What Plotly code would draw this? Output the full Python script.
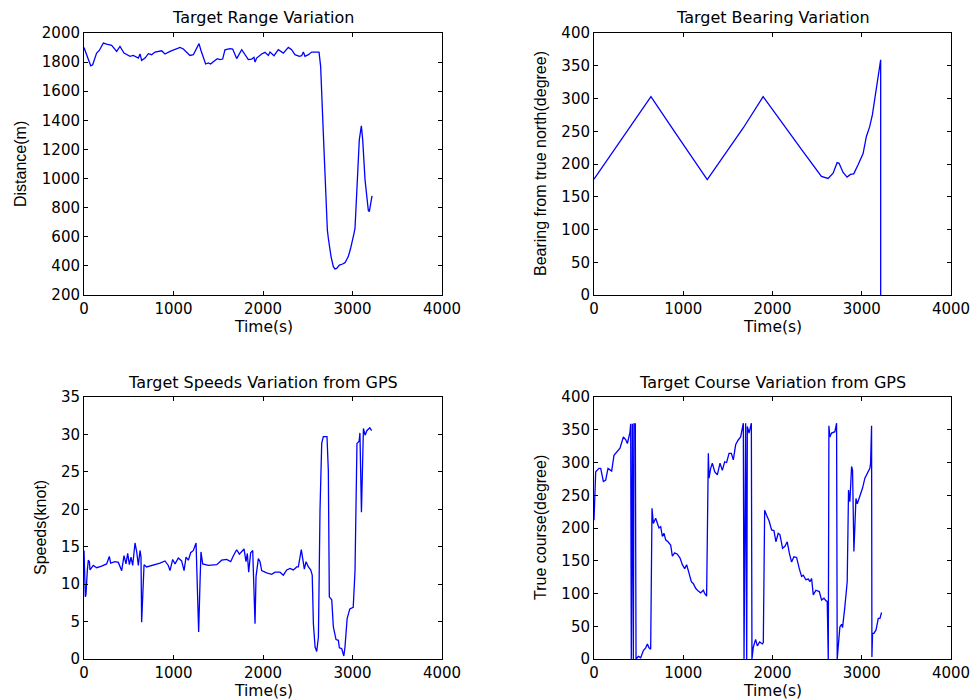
import plotly.graph_objects as go

# ---- data -------------------------------------------------------------
range_t = [0, 40, 75, 97, 141, 171, 216, 253, 309, 365,
           402, 447, 514, 551, 607, 626, 644, 682, 719, 756,
           793, 868, 905, 961, 1017, 1073, 1110, 1184, 1222, 1266,
           1285, 1307, 1359, 1389, 1415, 1445, 1490, 1519, 1549, 1575,
           1631, 1661, 1706, 1762, 1799, 1836, 1873, 1899, 1911, 1929,
           1985, 2022, 2060, 2078, 2123, 2171, 2227, 2283, 2320, 2357,
           2406, 2432, 2451, 2469, 2507, 2544, 2626, 2644, 2674, 2704,
           2719, 2730, 2760, 2786, 2804, 2823, 2853, 2890, 2916, 2953,
           2979, 3017, 3028, 3047, 3076, 3099, 3114, 3140, 3158, 3177,
           3188, 3203, 3218]
range_m = [1900, 1828, 1775, 1782, 1862, 1880, 1931, 1924, 1915, 1874,
           1908, 1862, 1840, 1846, 1828, 1856, 1812, 1828, 1858, 1851,
           1869, 1878, 1856, 1874, 1885, 1901, 1890, 1846, 1851, 1897,
           1927, 1880, 1787, 1794, 1787, 1803, 1824, 1817, 1821, 1885,
           1892, 1890, 1824, 1885, 1851, 1817, 1821, 1833, 1800, 1828,
           1856, 1867, 1846, 1869, 1844, 1885, 1862, 1901, 1885, 1851,
           1840, 1844, 1869, 1840, 1851, 1869, 1869, 1771, 1312, 853,
           647, 590, 464, 395, 379, 383, 406, 413, 422, 464,
           521, 624, 659, 899, 1266, 1363, 1266, 991, 876, 780,
           773, 819, 881]

bearing_t = [0, 422, 638, 925, 1269, 1672, 1895, 2343, 2548, 2623,
             2679, 2724, 2746, 2791, 2836, 2873, 2910, 2959, 3015, 3052,
             3089, 3119, 3156, 3183, 3212, 3212]
bearing_deg = [177, 260, 303, 245, 176, 255, 303, 219, 181, 178,
               186, 202, 201, 187, 180, 184, 185, 199, 216, 242,
               257, 275, 308, 336, 359, 0]

speed_t = [0, 15, 22, 37, 48, 60, 67, 104, 142, 197,
           253, 283, 298, 346, 384, 421, 447, 469, 488, 507,
           525, 544, 570, 589, 607, 626, 637, 644, 656, 671,
           700, 775, 849, 905, 942, 961, 991, 1017, 1054, 1091,
           1118, 1140, 1166, 1192, 1222, 1252, 1263, 1281, 1296, 1307,
           1326, 1389, 1483, 1538, 1594, 1639, 1669, 1706, 1736, 1762,
           1788, 1810, 1825, 1840, 1862, 1885, 1900, 1911, 1922, 1948,
           1967, 1985, 2041, 2097, 2134, 2190, 2227, 2265, 2302, 2339,
           2377, 2395, 2428, 2444, 2462, 2481, 2507, 2533, 2550, 2563,
           2582, 2600, 2619, 2637, 2656, 2674, 2715, 2730, 2741, 2768,
           2786, 2816, 2842, 2853, 2879, 2903, 2916, 2940, 2970, 3008,
           3028, 3050, 3074, 3083, 3100, 3122, 3141, 3160, 3193, 3214]
speed_kn = [14.5, 8.3, 8.6, 11.8, 13.2, 13.0, 11.9, 12.5, 12.2, 12.4,
            12.7, 13.7, 12.8, 13.0, 12.9, 11.8, 13.8, 12.7, 14.1, 12.6,
            13.6, 12.5, 15.5, 14.3, 12.5, 14.5, 13.6, 4.9, 9.6, 12.6,
            12.3, 12.5, 12.8, 13.1, 12.5, 11.8, 13.3, 12.7, 13.5, 13.1,
            11.8, 13.6, 13.2, 14.2, 14.5, 15.5, 9.2, 3.6, 10.1, 14.3,
            12.7, 12.5, 12.6, 13.2, 13.3, 13.0, 13.8, 14.6, 14.0, 14.3,
            14.7, 13.0, 14.1, 11.6, 14.2, 14.5, 10.1, 4.7, 11.0, 13.4,
            13.0, 11.8, 11.5, 11.3, 11.6, 11.6, 11.2, 11.9, 12.1, 11.9,
            12.3, 12.3, 14.6, 13.2, 12.0, 13.0, 12.3, 11.9, 11.2, 4.7,
            1.6, 1.0, 2.9, 19.9, 28.8, 29.7, 29.7, 25.2, 8.3, 7.9,
            4.3, 2.6, 2.5, 1.5, 1.4, 0.4, 1.6, 5.4, 6.7, 6.9,
            11.8, 28.8, 29.1, 30.2, 19.6, 30.8, 29.9, 30.5, 30.9, 30.5]

course_t = [0, 19, 56, 75, 105, 131, 157, 179, 198, 224,
            261, 291, 329, 355, 374, 403, 411, 418, 430, 441,
            448, 463, 471, 497, 523, 553, 579, 598, 616, 635,
            650, 665, 691, 710, 728, 747, 766, 784, 803, 829,
            859, 878, 904, 934, 964, 990, 1016, 1038, 1064, 1091,
            1113, 1139, 1165, 1195, 1225, 1240, 1262, 1281, 1289, 1307,
            1326, 1352, 1382, 1412, 1438, 1464, 1486, 1513, 1539, 1561,
            1587, 1614, 1643, 1662, 1673, 1681, 1699, 1711, 1718, 1737,
            1763, 1770, 1785, 1811, 1830, 1856, 1886, 1897, 1912, 1935,
            1961, 1990, 2016, 2038, 2064, 2083, 2113, 2139, 2165, 2188,
            2214, 2240, 2270, 2300, 2326, 2345, 2374, 2401, 2419, 2438,
            2457, 2486, 2524, 2550, 2576, 2598, 2613, 2625, 2632, 2643,
            2662, 2699, 2718, 2725, 2755, 2774, 2785, 2811, 2837, 2852,
            2867, 2886, 2897, 2912, 2935, 2950, 2979, 3009, 3035, 3073,
            3091, 3099, 3110, 3114, 3121, 3136, 3159, 3174, 3185, 3204,
            3222]
course_deg = [212, 286, 291, 291, 271, 273, 291, 288, 287, 311,
              317, 322, 339, 335, 329, 346, 359, 0, 359, 0,
              359, 359, 0, 4, 2, 13, 17, 23, 17, 15,
              230, 207, 215, 205, 200, 202, 187, 192, 182, 179,
              174, 157, 162, 160, 154, 144, 138, 144, 131, 118,
              115, 108, 104, 101, 105, 100, 96, 314, 276, 291,
              299, 286, 281, 299, 288, 301, 300, 314, 314, 304,
              327, 334, 339, 355, 360, 0, 360, 0, 355, 345,
              360, 0, 18, 30, 20, 26, 23, 25, 227, 219,
              211, 197, 196, 179, 192, 190, 169, 172, 179, 162,
              148, 156, 155, 138, 126, 128, 121, 122, 118, 123,
              98, 105, 103, 90, 93, 89, 88, 0, 356, 339,
              345, 347, 360, 0, 49, 53, 48, 80, 118, 258,
              240, 294, 288, 164, 245, 237, 248, 261, 276, 286,
              291, 299, 356, 3, 39, 39, 44, 54, 62, 62,
              71]

titles = ["Target Range Variation", "Target Bearing Variation",
          "Target Speeds Variation from GPS", "Target Course Variation from GPS"]
y_titles = ["Distance(m)", "Bearing from true north(degree)",
            "Speeds(knot)", "True course(degree)"]
x_title = "Time(s)"

# ---- figure geometry (pixels) --------------------------------------------
W, H = 977, 700
cols_px = [(84, 442), (594, 951)]
rows_px = [(33, 295), (397, 659)]

def px_x(x):
    return x / W

def px_y(y):
    return 1 - y / H

LINE = "#0000ff"
TICK_FONT = dict(family="DejaVu Sans", size=15, color="black")
TITLE_FONT = dict(family="DejaVu Sans", size=16, color="black")
XLAB_FONT = dict(family="DejaVu Sans", size=15.5, color="black")
YLAB_FONT = dict(family="Liberation Sans Narrow, Arial Narrow, Liberation Sans", size=16, color="black")

series = [(range_t, range_m), (bearing_t, bearing_deg),
          (speed_t, speed_kn), (course_t, course_deg)]
y_ranges = [(200, 2000, 200), (0, 400, 50), (0, 35, 5), (0, 400, 50)]
ylab_x = [20, 540, 40, 540]

fig = go.Figure()
layout = dict(width=W, height=H, autosize=False,
              margin=dict(l=0, r=0, t=0, b=0, pad=0),
              paper_bgcolor="white", plot_bgcolor="white",
              showlegend=False, annotations=[])

axis_style = dict(showline=True, linecolor="black", linewidth=1,
                  mirror="ticks", ticks="inside", ticklen=4,
                  tickcolor="black", tickwidth=1, showgrid=False,
                  zeroline=False, automargin=False, tickfont=TICK_FONT)

for i, (xs, ys) in enumerate(series):
    r, c = divmod(i, 2)
    n = "" if i == 0 else str(i + 1)
    x0, x1 = cols_px[c]
    y0, y1 = rows_px[r]
    fig.add_trace(go.Scatter(x=xs, y=ys, mode="lines",
                             line=dict(color=LINE, width=1.3),
                             xaxis="x" + n, yaxis="y" + n,
                             hoverinfo="skip"))
    lo, hi, step = y_ranges[i]
    layout["xaxis" + n] = dict(axis_style, domain=[px_x(x0), px_x(x1)],
                               range=[0, 4000], tickmode="linear",
                               tick0=0, dtick=1000, anchor="y" + n)
    layout["yaxis" + n] = dict(axis_style, domain=[px_y(y1), px_y(y0)],
                               range=[lo, hi], tickmode="linear",
                               tick0=lo, dtick=step, anchor="x" + n)
    cx = (x0 + x1) / 2
    cy = (y0 + y1) / 2
    layout["annotations"] += [
        dict(text=titles[i], xref="paper", yref="paper",
             x=px_x(cx), y=px_y(y0 - 15), xanchor="center", yanchor="middle",
             showarrow=False, font=TITLE_FONT),
        dict(text=x_title, xref="paper", yref="paper",
             x=px_x(cx), y=px_y(y1 + 32), xanchor="center", yanchor="middle",
             showarrow=False, font=XLAB_FONT),
        dict(text=y_titles[i], xref="paper", yref="paper",
             x=px_x(ylab_x[i]), y=px_y(cy), xanchor="center", yanchor="middle",
             textangle=-90, showarrow=False, font=YLAB_FONT),
    ]

fig.update_layout(**layout)
fig.write_html("out.html")
